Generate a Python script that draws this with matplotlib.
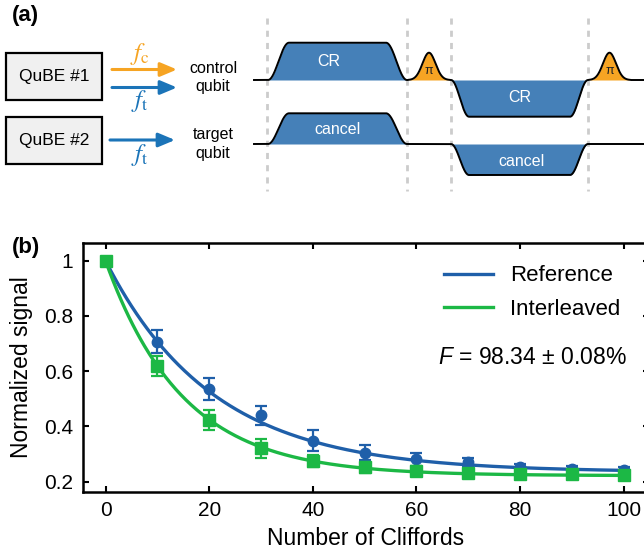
import numpy as np
import matplotlib
matplotlib.use("Agg")
import matplotlib.pyplot as plt
from matplotlib.patches import Rectangle

plt.rcParams['font.family'] = ['Liberation Sans', 'DejaVu Sans']
plt.rcParams['mathtext.fontset'] = 'custom'
plt.rcParams['mathtext.rm'] = 'Liberation Sans'
plt.rcParams['mathtext.it'] = 'Liberation Sans:italic'

# ---------------- data (panel b) ----------------
cliffords = [0, 10, 20, 30, 40, 50, 60, 70, 80, 90, 100]
ref_signal = [1.0, 0.707, 0.535, 0.441, 0.349, 0.305, 0.281, 0.270, 0.254, 0.247, 0.242]
ref_err = [0.0, 0.042, 0.040, 0.034, 0.039, 0.028, 0.024, 0.016, 0.012, 0.010, 0.010]
int_signal = [1.0, 0.619, 0.423, 0.321, 0.275, 0.252, 0.240, 0.230, 0.229, 0.227, 0.224]
int_err = [0.0, 0.036, 0.037, 0.034, 0.022, 0.020, 0.016, 0.015, 0.013, 0.012, 0.012]
# fit parameters A * p**m + B
ref_fit = dict(A=0.765, p=0.9529, B=0.235)
int_fit = dict(A=0.778, p=0.935, B=0.222)
legend_labels = ["Reference", "Interleaved"]
fidelity_text = r"$F$ = 98.34 $\pm$ 0.08%"
xticks = [0, 20, 40, 60, 80, 100]
yticks = [0.2, 0.4, 0.6, 0.8, 1.0]
ytick_labels = ["0.2", "0.4", "0.6", "0.8", "1"]

BLUE = "#1f5fa9"
GREEN = "#1cb845"
PULSE = "#4580b8"
ORANGE = "#f6a423"
ARROW_BLUE = "#1b74b8"

W, H = 644, 557
fig = plt.figure(figsize=(W / 100, H / 100), dpi=100)

# ---------------- panel (a) schematic in pixel coordinates ----------------
axs = fig.add_axes([0, 0, 1, 1])
axs.set_xlim(0, W)
axs.set_ylim(H, 0)
axs.axis("off")

axs.text(12, 15, "(a)", fontsize=16, fontweight="bold", va="center", ha="left")
axs.text(12, 247, "(b)", fontsize=16, fontweight="bold", va="center", ha="left")

for y0, lab in [(53, "QuBE #1"), (117, "QuBE #2")]:
    axs.add_patch(Rectangle((6, y0), 96, 47, fc="#f0f0f0", ec="black", lw=1.6))
    axs.text(54, y0 + 24, lab, fontsize=12.5, ha="center", va="center")

def arrow(x0, x1, y, c):
    axs.annotate("", xy=(x1, y), xytext=(x0, y),
                 arrowprops=dict(arrowstyle="-|>,head_length=1.0,head_width=0.42",
                                 mutation_scale=10, lw=2.2, color=c,
                                 shrinkA=0, shrinkB=0))

arrow(112, 177, 69.5, ORANGE)
arrow(112, 177, 87.5, ARROW_BLUE)
arrow(110, 175, 140, ARROW_BLUE)
fkw = dict(fontsize=18, ha="center", va="center", math_fontfamily="stix")
axs.text(140, 54, r"$f_\mathrm{c}$", color=ORANGE, **fkw)
axs.text(140, 101, r"$f_\mathrm{t}$", color=ARROW_BLUE, **fkw)
axs.text(140, 155, r"$f_\mathrm{t}$", color=ARROW_BLUE, **fkw)

axs.text(213, 77.5, "control\nqubit", fontsize=11.5, ha="center", va="center", linespacing=1.3)
axs.text(213, 144, "target\nqubit", fontsize=11.5, ha="center", va="center", linespacing=1.3)

# dashed separators
for xd in [267.5, 407.5, 451, 588.5]:
    axs.plot([xd, xd], [18, 191], color="#cccccc", lw=2, ls=(0, (2.2, 2.2)), zorder=1)

def flattop(x, x0, x1, rise):
    y = np.zeros_like(x)
    r = (x >= x0) & (x < x0 + rise)
    y[r] = 0.5 * (1 - np.cos(np.pi * (x[r] - x0) / rise))
    f = (x >= x0 + rise) & (x <= x1 - rise)
    y[f] = 1.0
    d = (x > x1 - rise) & (x <= x1)
    y[d] = 0.5 * (1 - np.cos(np.pi * (x1 - x[d]) / rise))
    return y

def gauss(x, xc, s):
    g = np.exp(-0.5 * ((x - xc) / s) ** 2)
    g[np.abs(x - xc) > 21] = 0
    return g

xs = np.linspace(254, 644, 3000)
cr1 = 37.3 * flattop(xs, 268, 407, 21)
cr2 = -36.7 * flattop(xs, 451, 588, 18)
pi1 = 27.3 * gauss(xs, 429, 6.5)
pi2 = 27.3 * gauss(xs, 609.5, 6.5)
base_c = 80
yc = base_c - cr1 - cr2 - pi1 - pi2
axs.fill_between(xs, base_c, base_c - cr1, where=cr1 > 0, color=PULSE, lw=0, zorder=2)
axs.fill_between(xs, base_c, base_c - cr2, where=cr2 < 0, color=PULSE, lw=0, zorder=2)
axs.fill_between(xs, base_c, base_c - pi1, where=pi1 > 1e-3, color=ORANGE, lw=0, zorder=2)
axs.fill_between(xs, base_c, base_c - pi2, where=pi2 > 1e-3, color=ORANGE, lw=0, zorder=2)
axs.plot(xs, yc, color="black", lw=1.4, zorder=3)

base_t = 144
ca1 = 30.7 * flattop(xs, 268, 407, 21)
ca2 = -31 * flattop(xs, 451, 588, 18)
yt = base_t - ca1 - ca2
axs.fill_between(xs, base_t, base_t - ca1, where=ca1 > 0, color=PULSE, lw=0, zorder=2)
axs.fill_between(xs, base_t, base_t - ca2, where=ca2 < 0, color=PULSE, lw=0, zorder=2)
axs.plot(xs, yt, color="black", lw=1.4, zorder=3)

txt_kw = dict(color="white", fontsize=11.5, ha="center", va="center", zorder=4)
axs.text(329, 62, "CR", **txt_kw)
axs.text(338, 129, "cancel", **txt_kw)
axs.text(520, 98, "CR", **txt_kw)
axs.text(522, 161, "cancel", **txt_kw)
axs.text(429, 71, "π", color="#222222", fontsize=9, ha="center", va="center", zorder=4)
axs.text(609.5, 71, "π", color="#222222", fontsize=9, ha="center", va="center", zorder=4)

# ---------------- panel (b) ----------------
ax = fig.add_axes([82.7 / W, 1 - 491.7 / H, 566 / W, (491.7 - 243) / H])
m = np.linspace(0, 100, 400)
ax.plot(m, ref_fit["A"] * ref_fit["p"] ** m + ref_fit["B"], color=BLUE, lw=2.4, label=legend_labels[0], zorder=3)
ax.errorbar(cliffords, ref_signal, yerr=ref_err, fmt="o", color=BLUE, ms=7.5,
            elinewidth=1.6, capsize=4, capthick=1.6, zorder=4)
ax.plot(m, int_fit["A"] * int_fit["p"] ** m + int_fit["B"], color=GREEN, lw=2.4, label=legend_labels[1], zorder=5)
ax.errorbar(cliffords, int_signal, yerr=int_err, fmt="s", color=GREEN, ms=8.5,
            elinewidth=1.6, capsize=4, capthick=1.6, zorder=6)

ax.set_xlim(-4.4, 104.8)
ax.set_ylim(0.164, 1.064)
ax.set_xticks(xticks)
ax.set_yticks(yticks)
ax.set_yticklabels(ytick_labels)
ax.tick_params(direction="in", top=True, right=True, length=4, width=1.5,
               labelsize=15, pad=7)
for s in ax.spines.values():
    s.set_linewidth(1.8)
ax.set_xlabel("Number of Cliffords", fontsize=16.5, labelpad=5)
ax.set_ylabel("Normalized signal", fontsize=16.5, labelpad=8)

leg = ax.legend(loc="upper right", bbox_to_anchor=(0.985, 0.99), frameon=False,
                fontsize=16, handlelength=2.2, handletextpad=0.75, labelspacing=0.55)
ax.text(82.4, 0.648, fidelity_text, fontsize=16.5, ha="center", va="center")

fig.savefig("out.png", dpi=100)
